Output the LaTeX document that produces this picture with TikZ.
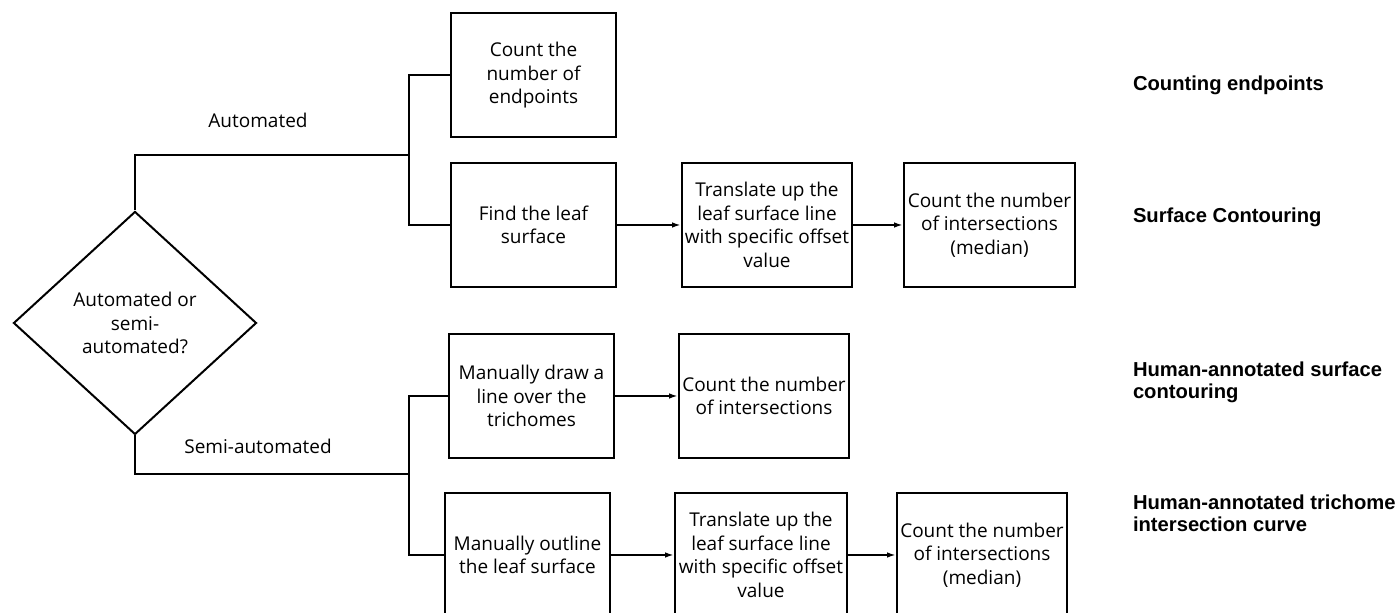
\documentclass[tikz,border=0pt]{standalone}
\usepackage{fontspec}
\setmainfont{Open Sans}
\newfontfamily\methodfont{Liberation Sans}
\usetikzlibrary{shapes.geometric,arrows.meta}

\tikzset{
    proc/.style={draw, minimum height=62pt, inner sep=1pt, align=center,
        font=\fontsize{9.5}{11.75}\selectfont},
    decision/.style={draw, diamond, minimum width=121.5pt, minimum height=111.5pt,
        inner sep=0pt, align=center, font=\fontsize{9.5}{11.75}\selectfont},
    branch/.style={inner sep=0pt, font=\fontsize{9.5}{11.75}\selectfont},
    method/.style={anchor=west, align=left, inner sep=0pt,
        font=\methodfont\bfseries\fontsize{10.1}{11}\selectfont},
}

\begin{document}
\begin{tikzpicture}[x=0.5pt,y=-0.5pt,line width=1pt,>={Latex[length=4.5pt,width=2.8pt]}]
    \useasboundingbox (0,0) rectangle (1399,613);
    \clip (0,0) rectangle (1399,613);

    % decision
    \node[decision] (dec) at (135,323) {Automated or\\semi-\\automated?};
    \node[branch] (autolbl) at (258,120) {Automated};
    \node[branch] (semilbl) at (258,446) {Semi-automated};

    % automated
    \node[proc, minimum width=82.5pt] (endp) at (533.5,75.5) {Count the\\number of\\endpoints};
    \node[proc, minimum width=82.5pt] (leaf) at (533.5,225) {Find the leaf\\surface};
    \node[proc, minimum width=85pt] (trans1) at (767,225) {Translate up the\\leaf surface line\\with specific offset\\value};
    \node[proc, minimum width=85.5pt] (med1) at (989.5,225) {Count the number\\of intersections\\(median)};

    % semi-automated
    \node[proc, minimum width=82.5pt] (manline) at (531.5,396) {Manually draw a\\line over the\\trichomes};
    \node[proc, minimum width=85pt] (inter) at (764,396) {Count the number\\of intersections};
    \node[proc, minimum width=82.5pt] (manout) at (527.5,555) {Manually outline\\the leaf surface};
    \node[proc, minimum width=86pt] (trans2) at (761,555) {Translate up the\\leaf surface line\\with specific offset\\value};
    \node[proc, minimum width=85pt] (med2) at (982,555) {Count the number\\of intersections\\(median)};

    % connectors
    \coordinate (autosplit) at (409,155);
    \coordinate (semisplit) at (409,474);
    \draw (dec.north) |- (autosplit);
    \draw (endp.west) -| (autosplit) |- (leaf.west);
    \draw (dec.south) |- (semisplit);
    \draw (manline.west) -| (semisplit) |- (manout.west);

    \draw[->] (leaf.east) -- (trans1.west);
    \draw[->] (trans1.east) -- (med1.west);
    \draw[->] (manline.east) -- (inter.west);
    \draw[->] (manout.east) -- (trans2.west);
    \draw[->] (trans2.east) -- (med2.west);

    % method names
    \node[method] (m1) at (1132,85) {Counting endpoints};
    \node[method] (m2) at (1132,217) {Surface Contouring};
    \node[method] (m3) at (1132,382) {Human-annotated surface\\contouring};
    \node[method] (m4) at (1132,513.5) {Human-annotated trichome\\intersection curve};
\end{tikzpicture}
\end{document}
